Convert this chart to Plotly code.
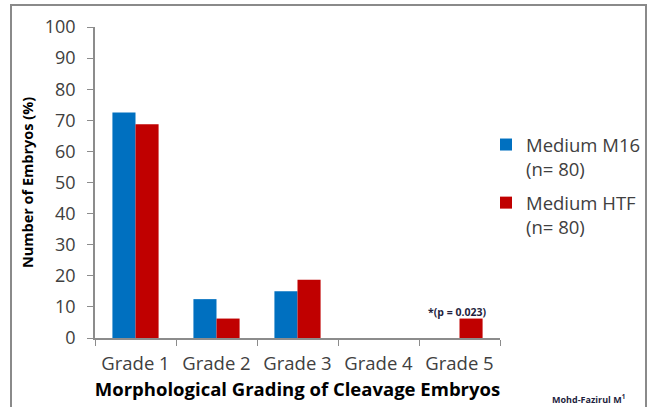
import plotly.graph_objects as go

categories = ["Grade 1", "Grade 2", "Grade 3", "Grade 4", "Grade 5"]
m16_values = [72.5, 12.5, 15.0, 0, 0]
htf_values = [68.75, 6.25, 18.75, 0, 6.25]
y_ticks = [0, 10, 20, 30, 40, 50, 60, 70, 80, 90, 100]

W, H = 655, 407
L, R, T, B = 95, 155, 27, 69
pw, ph = W - L - R, H - T - B

def px(x):
    return (x - L) / pw

def py(y):
    return (H - B - y) / ph

fig = go.Figure()
fig.add_trace(go.Bar(x=categories, y=m16_values, name="Medium M16<br>(n= 80)",
                     legendgroup="m16",
                     marker=dict(color="#0070C0", line=dict(width=0))))
fig.add_trace(go.Bar(x=categories, y=htf_values, name="Medium HTF<br>(n= 80)",
                     legendgroup="htf",
                     marker=dict(color="#C00000", line=dict(width=0))))

fig.update_layout(
    width=W, height=H,
    margin=dict(l=L, r=R, t=T, b=B, autoexpand=False),
    paper_bgcolor="white", plot_bgcolor="white",
    barmode="group", bargap=0.43, bargroupgap=0,
    font=dict(family="Open Sans, Liberation Sans, sans-serif", color="#404040", size=15),
    legend=dict(x=px(486), y=py(126), xanchor="left", yanchor="top", valign="top",
                font=dict(size=18.5, color="#404040"), tracegroupgap=7,
                itemwidth=30, bgcolor="rgba(0,0,0,0)"),
    xaxis=dict(range=[-0.5, 4.5], showline=True, linecolor="#8c8c8c", linewidth=1.5,
               ticks="outside", ticklen=6, tickcolor="#8c8c8c", showgrid=False,
               tickson="boundaries", ticklabelstandoff=8,
               tickfont=dict(size=18.5, color="#404040"),
               title=dict(text="<b>Morphological Grading of Cleavage Embryos</b>",
                          font=dict(size=18.5, color="black"), standoff=9)),
    yaxis=dict(range=[0, 100], tickvals=y_ticks, showline=True, linecolor="#8c8c8c",
               linewidth=1.5, ticks="outside", ticklen=6, tickcolor="#8c8c8c",
               showgrid=False, zeroline=False, ticklabelstandoff=8,
               tickfont=dict(size=18, color="#404040"),
               title=dict(text="<b>Number of Embryos (%)</b>",
                          font=dict(size=14.5, color="black"), standoff=8)),
    shapes=[dict(type="rect", xref="paper", yref="paper",
                 x0=px(11), x1=px(646), y0=py(420), y1=py(5),
                 line=dict(color="#8a8a8a", width=2), fillcolor="rgba(0,0,0,0)")],
    annotations=[
        dict(x=3.97, y=htf_values[4], xref="x", yref="y", yshift=-2,
             text="<b>*(p = 0.023)</b>", showarrow=False, yanchor="bottom",
             font=dict(size=10.5, color="#1f1f3f")),
        dict(x=px(550), y=py(399), xref="paper", yref="paper", xanchor="left",
             yanchor="middle", text="<b>Mohd-Fazirul M<sup>1</sup></b>", showarrow=False,
             font=dict(size=9, color="#1f1f3f")),
    ],
)

fig.write_html("out.html", config={"displayModeBar": False},
               post_script="document.body.style.margin='0';document.body.style.overflow='hidden';")
